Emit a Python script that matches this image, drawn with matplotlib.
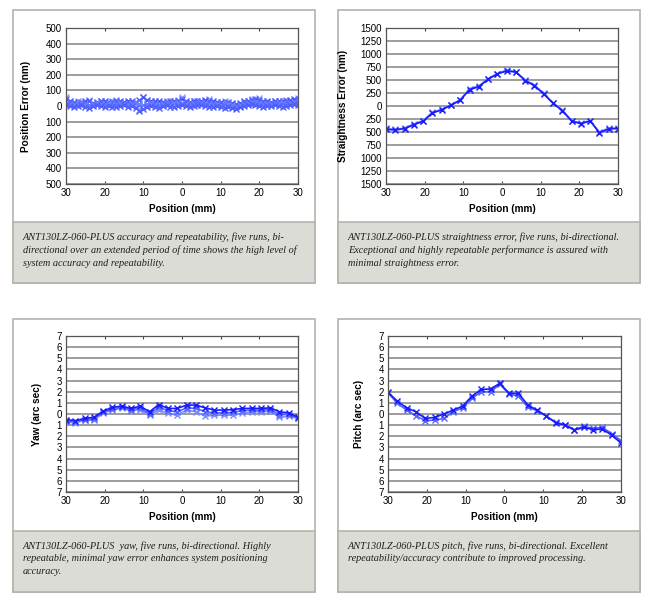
import numpy as np
import matplotlib
matplotlib.use("Agg")
import matplotlib.pyplot as plt
from matplotlib.patches import Rectangle
from matplotlib.ticker import FuncFormatter

plt.rcParams['font.family'] = ['Liberation Sans', 'DejaVu Sans']

# --- data ---
pos_x = np.arange(-30, 31)
pos_run1 = [45, 30, 25, 20, 28, 35, 30, 22, 25, 30, 35, 28, 25, 30, 32, 28, 35, 30, 25, 40,
            55, 40, 35, 30, 32, 28, 25, 30, 35, 30, 45, 30, 28, 32, 30, 35, 40, 35, 30, 28,
            25, 22, 25, 20, 15, 18, 30, 35, 40, 45, 38, 32, 30, 28, 30, 32, 35, 30, 40, 45, 40]
pos_run2 = [20, 15, 10, 12, 18, 14, 8, 15, 20, 12, 10, 18, 15, 12, 20, 16, 10, 14, 18, 10,
            5, 15, 20, 12, 8, 16, 14, 10, 18, 22, 20, 15, 12, 10, 14, 18, 22, 15, 10, 12,
            8, 10, 14, 6, 2, 8, 15, 20, 25, 22, 18, 12, 10, 14, 16, 20, 18, 15, 22, 25, 24]
pos_run3 = [5, 0, -8, -2, 4, -5, -10, 0, 5, -3, -6, 2, -4, -8, 0, 4, -6, -2, -15, -35,
            -20, -5, 2, -4, -10, -2, 4, -8, -5, 0, 5, -2, -6, 0, 4, 8, 2, -4, -8, -2,
            -6, -12, -4, -10, -18, -8, 0, 6, 10, 4, 0, -5, -2, 2, 5, 0, -4, 2, 8, 10, 5]
pos_run4 = [60, 25, 15, 30, 10, 20, 40, 5, 15, 35, 20, 5, 30, 40, 10, 25, 20, 5, 0, -25,
            60, 10, 25, 15, 20, 5, 30, 20, 10, 40, 55, 20, 10, 30, 20, 10, 30, 45, 20, 5,
            15, 30, 5, 10, -5, 0, 25, 10, 45, 30, 50, 25, 5, 20, 35, 15, 25, 40, 20, 35, 50]

grid_x = np.linspace(-30, 30, 26)
straight_a = [-450, -460, -435, -360, -295, -135, -75, 15, 110, 315, 370, 515, 615,
              675, 650, 490, 390, 230, 50, -90, -290, -340, -290, -515, -440, -435]
straight_b = [-430, -450, -425, -345, -280, -120, -65, 25, 120, 335, 385, 525, 625,
              690, 660, 500, 400, 245, 65, -75, -280, -330, -280, -500, -425, -420]

yaw_a = [-0.5, -0.6, -0.4, -0.3, 0.25, 0.6, 0.7, 0.5, 0.7, 0.2, 0.85, 0.5, 0.5,
         0.8, 0.8, 0.55, 0.35, 0.35, 0.4, 0.5, 0.5, 0.5, 0.55, 0.2, 0.1, -0.3]
yaw_b = [-0.6, -0.7, -0.5, -0.45, 0.15, 0.45, 0.6, 0.4, 0.55, 0.0, 0.6, 0.3, 0.2,
         0.55, 0.5, 0.2, 0.1, 0.1, 0.15, 0.3, 0.35, 0.35, 0.4, -0.05, -0.05, -0.35]
yaw_c = [-0.7, -0.8, -0.55, -0.55, 0.1, 0.35, 0.5, 0.3, 0.4, -0.1, 0.35, 0.05, -0.1,
         0.35, 0.2, -0.2, -0.1, -0.1, -0.1, 0.05, 0.2, 0.2, 0.25, -0.3, -0.2, -0.4]

pitch_a = [1.95, 1.15, 0.55, 0.2, -0.4, -0.3, 0.0, 0.35, 0.7, 1.6, 2.2, 2.25, 2.75,
           1.85, 1.85, 0.8, 0.35, -0.2, -0.8, -1.0, -1.45, -1.2, -1.4, -1.35, -1.9, -2.6]
pitch_b = [1.9, 0.95, 0.35, -0.15, -0.6, -0.55, -0.4, 0.2, 0.55, 1.4, 2.0, 2.0, 2.65,
           1.8, 1.6, 0.6, 0.3, -0.2, -0.75, -0.95, -1.4, -1.1, -1.3, -1.2, -1.75, -2.4]

captions = [
    "ANT130LZ-060-PLUS accuracy and repeatability, five runs, bi-\n"
    "directional over an extended period of time shows the high level of\n"
    "system accuracy and repeatability.",
    "ANT130LZ-060-PLUS straightness error, five runs, bi-directional.\n"
    "Exceptional and highly repeatable performance is assured with\n"
    "minimal straightness error.",
    "ANT130LZ-060-PLUS  yaw, five runs, bi-directional. Highly\n"
    "repeatable, minimal yaw error enhances system positioning\n"
    "accuracy.",
    "ANT130LZ-060-PLUS pitch, five runs, bi-directional. Excellent\n"
    "repeatability/accuracy contribute to improved processing.",
]

W, H = 650, 605
fig = plt.figure(figsize=(W / 100, H / 100), dpi=100)
fig.patch.set_facecolor('white')


def px_rect(l, t, r, b):
    return [l / W, 1 - b / H, (r - l) / W, (b - t) / H]


def panel_box(l, t, r, b, cap_top, text):
    fig.patches.append(Rectangle((l / W, 1 - b / H), (r - l) / W, (b - t) / H,
                                 transform=fig.transFigure, facecolor='white',
                                 edgecolor='#b4b4ac', lw=1.2, zorder=-10))
    fig.patches.append(Rectangle((l / W, 1 - b / H), (r - l) / W, (b - cap_top) / H,
                                 transform=fig.transFigure, facecolor='#dcdcd6',
                                 edgecolor='#b4b4ac', lw=1.2, zorder=-9))
    fig.text((l + 10) / W, 1 - (cap_top + 10) / H, text, ha='left', va='top',
             family='Liberation Serif', style='italic', fontsize=7.4,
             linespacing=1.5, color='#1e1e1e')


absfmt = FuncFormatter(lambda v, p: f"{abs(v):g}")


def style_axes(ax, ylim, yticks, ylabel, ylab_x):
    ax.set_xlim(-30, 30)
    ax.set_ylim(*ylim)
    ax.set_xticks([-30, -20, -10, 0, 10, 20, 30])
    ax.set_yticks(yticks)
    ax.xaxis.set_major_formatter(absfmt)
    ax.yaxis.set_major_formatter(absfmt)
    ax.tick_params(axis='x', direction='in', length=2.5, top=True, labelsize=7,
                   pad=3, color='#444444')
    ax.tick_params(axis='y', length=0, labelsize=7, pad=3)
    ax.grid(axis='y', color='#8c8c8c', lw=1.2)
    ax.set_axisbelow(True)
    for s in ax.spines.values():
        s.set_color('#555555')
        s.set_linewidth(0.9)
    ax.set_xlabel('Position (mm)', fontsize=7.2, fontweight='bold')
    ax.xaxis.set_label_coords(0.5, -0.13)
    ax.set_ylabel(ylabel, fontsize=7.2, fontweight='bold')
    ax.yaxis.set_label_coords(ylab_x, 0.5)


# panel boxes
panel_box(13, 10, 315, 283, 222, captions[0])
panel_box(338, 10, 640, 283, 222, captions[1])
panel_box(13, 319, 315, 592, 531, captions[2])
panel_box(338, 319, 640, 592, 531, captions[3])

# position error
ax1 = fig.add_axes(px_rect(66, 28, 298, 184))
for run, col in zip([pos_run4, pos_run1, pos_run2, pos_run3],
                    ['#8f9cff', '#4a5cff', '#6a7cff', '#5060ff']):
    ax1.plot(pos_x, run, color=col, lw=0.7, marker='x', ms=4, mew=1.0)
style_axes(ax1, (-500, 500), np.arange(-500, 501, 100), 'Position Error (nm)', -0.15)

# straightness
ax2 = fig.add_axes(px_rect(386, 28, 618, 184))
ax2.plot(grid_x, straight_b, color='#7a8aff', lw=1.2, marker='x', ms=4.5, mew=1.0)
ax2.plot(grid_x, straight_a, color='#1a1aff', lw=1.2, marker='x', ms=4.5, mew=1.0)
style_axes(ax2, (-1500, 1500), np.arange(-1500, 1501, 250), 'Straightness Error (nm)', -0.165)

# yaw
ax3 = fig.add_axes(px_rect(66, 336, 298, 492))
for run, col in zip([yaw_c, yaw_b, yaw_a], ['#7a8aff', '#5566ff', '#1a1aff']):
    ax3.plot(grid_x, run, color=col, lw=1.2, marker='x', ms=4.5, mew=1.0)
style_axes(ax3, (-7, 7), np.arange(-7, 8, 1), 'Yaw (arc sec)', -0.105)

# pitch
ax4 = fig.add_axes(px_rect(388, 336, 621, 492))
ax4.plot(grid_x, pitch_b, color='#5566ff', lw=1.2, marker='x', ms=4.5, mew=1.0)
ax4.plot(grid_x, pitch_a, color='#1a1aff', lw=1.2, marker='x', ms=4.5, mew=1.0)
style_axes(ax4, (-7, 7), np.arange(-7, 8, 1), 'Pitch (arc sec)', -0.105)

fig.savefig('out.png', dpi=100)
